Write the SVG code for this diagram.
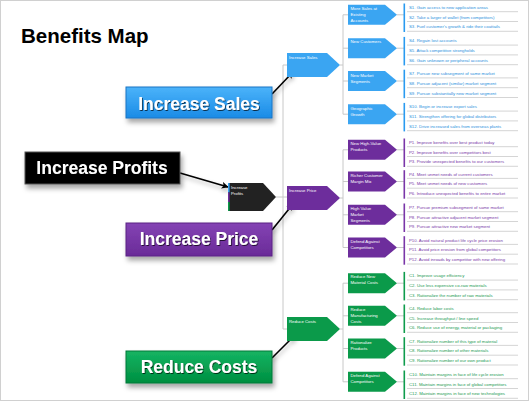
<svg xmlns="http://www.w3.org/2000/svg" width="529" height="401" viewBox="0 0 529 401">
<defs>
<style>
.title{font-family:"Liberation Sans",Arial,sans-serif;font-weight:bold;font-size:20.5px;fill:#000}
.big{font-family:"Liberation Sans",Arial,sans-serif;font-weight:bold;font-size:17.5px;fill:#fff;text-anchor:middle}
.sm{font-family:"Liberation Sans",Arial,sans-serif;font-size:4.3px;fill:#fff}
.it{font-family:"Liberation Sans",Arial,sans-serif;font-size:4.3px}
.tb{fill:#2a8fdc}.tp{fill:#7a3aa8}.tg{fill:#1a9a50}
.nb{fill:#3aa5f2}.np{fill:#6d2d9c}.ng{fill:#0b9a4a}
.bb{fill:#2a9af0}.bp{fill:#7a36a8}.bg{fill:#0f9c4c}
.tree{stroke:#c8c8c8;stroke-width:1;fill:none}
.sep{stroke:#d0d0d0;stroke-width:0.9}
.arr{stroke:#000;stroke-width:1.6;fill:none;marker-end:url(#ah)}
</style>
<marker id="ah" viewBox="0 0 10 10" refX="9" refY="5" markerWidth="7" markerHeight="7" markerUnits="userSpaceOnUse" orient="auto">
<path d="M0,0 L10,5 L0,10 L2.5,5 z" fill="#000"/>
</marker>
<linearGradient id="gB" x1="0" y1="0" x2="0" y2="1"><stop offset="0" stop-color="#4bb3fa"/><stop offset="1" stop-color="#1a8be6"/></linearGradient>
<linearGradient id="gP" x1="0" y1="0" x2="0" y2="1"><stop offset="0" stop-color="#8444b4"/><stop offset="1" stop-color="#6a2a98"/></linearGradient>
<linearGradient id="gG" x1="0" y1="0" x2="0" y2="1"><stop offset="0" stop-color="#14b463"/><stop offset="1" stop-color="#008f40"/></linearGradient>
<filter id="sh" x="-20%" y="-30%" width="150%" height="180%"><feDropShadow dx="2" dy="4" stdDeviation="2.5" flood-color="#000" flood-opacity="0.35"/></filter>
<filter id="ts" x="-10%" y="-30%" width="120%" height="160%"><feDropShadow dx="0.8" dy="1" stdDeviation="0.5" flood-color="#000" flood-opacity="0.7"/></filter>
<filter id="as" x="-50%" y="-50%" width="200%" height="200%"><feDropShadow dx="1" dy="3" stdDeviation="2" flood-color="#000" flood-opacity="0.3"/></filter>
</defs>
<rect x="0.5" y="0.5" width="528" height="400" fill="#fff" stroke="#d0d0d0"/>
<text class="title" x="21" y="42.7">Benefits Map</text>

<g id="connectors">
<path class="tree" d="M283,65 V329 M276,197 H283 M283,65 H287 M283,197 H287 M283,329 H287"/>
<path class="tree" d="M340,65 H343 M343,14.8 V114.2 M343,14.8 H348 M343,48.2 H348 M343,81 H348 M343,114.2 H348"/>
<path class="tree" d="M340,198 H343 M343,149.8 V247.5 M343,149.8 H348 M343,181.5 H348 M343,214.8 H348 M343,247.5 H348"/>
<path class="tree" d="M340,329 H343 M343,283.2 V381.8 M343,283.2 H348 M343,315.8 H348 M343,348.5 H348 M343,381.8 H348"/>
<path class="tree" d="M397,14.8 H404 M397,48.2 H404 M397,81 H404 M397,114.2 H404 M397,149.8 H404 M397,181.5 H404 M397,214.8 H404 M397,247.5 H404 M397,283.2 H404 M397,315.8 H404 M397,348.5 H404 M397,381.8 H404"/>
<g filter="url(#as)">
<line class="arr" x1="272" y1="94" x2="293" y2="72"/>
<line class="arr" x1="180" y1="173" x2="228" y2="187"/>
<line class="arr" x1="272" y1="230" x2="293" y2="204"/>
<line class="arr" x1="272" y1="358" x2="295" y2="335"/>
</g>
</g>

<g id="big-sales" filter="url(#sh)"><rect x="126" y="87" width="146" height="31" fill="url(#gB)" stroke="#1a74c4" stroke-width="1"/><text class="big" x="199" y="109.5" filter="url(#ts)">Increase Sales</text></g>
<g id="big-profits" filter="url(#sh)"><rect x="25" y="152" width="155" height="32" fill="#000" stroke="#555" stroke-width="1"/><text class="big" x="102" y="173.5" filter="url(#ts)">Increase Profits</text></g>
<g id="big-price" filter="url(#sh)"><rect x="126" y="223" width="146" height="33" fill="url(#gP)" stroke="#5a2284" stroke-width="1"/><text class="big" x="199" y="245" filter="url(#ts)">Increase Price</text></g>
<g id="big-costs" filter="url(#sh)"><rect x="126" y="351" width="146" height="32" fill="url(#gG)" stroke="#00783a" stroke-width="1"/><text class="big" x="199" y="372.5" filter="url(#ts)">Reduce Costs</text></g>

<g id="n-profits"><polygon points="228,183 263,183 276,197 263,211 228,211" fill="#222"/><rect x="228" y="183" width="1.6" height="9.5" fill="#3aa5f2"/><rect x="228" y="192.5" width="1.6" height="9.5" fill="#6d2d9c"/><rect x="228" y="202" width="1.6" height="9" fill="#0b9a4a"/><text class="sm" x="231" y="189">Increase</text><text class="sm" x="231" y="194.5">Profits</text></g>

<g id="n-sales"><polygon class="nb" points="287,53 327,53 340,65 327,77 287,77"/><text class="sm" x="289" y="59">Increase Sales</text></g>
<g id="n-price"><polygon class="np" points="287,186 327,186 340,198 327,210 287,210"/><text class="sm" x="289" y="192">Increase Price</text></g>
<g id="n-costs"><polygon class="ng" points="287,317 327,317 340,329 327,341 287,341"/><text class="sm" x="289" y="323">Reduce Costs</text></g>

<g id="s-existing"><polygon class="nb" points="348,4.8 385,4.8 397,14.8 385,24.8 348,24.8"/><text class="sm" x="350.5" y="9.8">More Sales at</text><text class="sm" x="350.5" y="15.8">Existing</text><text class="sm" x="350.5" y="21.8">Accounts</text></g>
<g id="s-newcust"><polygon class="nb" points="348,38.2 385,38.2 397,48.2 385,58.2 348,58.2"/><text class="sm" x="350.5" y="43.2">New Customers</text></g>
<g id="s-newmkt"><polygon class="nb" points="348,71 385,71 397,81 385,91 348,91"/><text class="sm" x="350.5" y="77">New Market</text><text class="sm" x="350.5" y="83">Segments</text></g>
<g id="s-geo"><polygon class="nb" points="348,104.2 385,104.2 397,114.2 385,124.2 348,124.2"/><text class="sm" x="350.5" y="110.2">Geographic</text><text class="sm" x="350.5" y="116.2">Growth</text></g>

<g id="p-highval"><polygon class="np" points="348,139.8 385,139.8 397,149.8 385,159.8 348,159.8"/><text class="sm" x="350.5" y="144.8">New High-Value</text><text class="sm" x="350.5" y="150.8">Products</text></g>
<g id="p-richer"><polygon class="np" points="348,171.5 385,171.5 397,181.5 385,191.5 348,191.5"/><text class="sm" x="350.5" y="176.5">Richer Customer</text><text class="sm" x="350.5" y="182.5">Margin Mix</text></g>
<g id="p-hvmkt"><polygon class="np" points="348,204.8 385,204.8 397,214.8 385,224.8 348,224.8"/><text class="sm" x="350.5" y="209.8">High Value</text><text class="sm" x="350.5" y="215.8">Market</text><text class="sm" x="350.5" y="221.8">Segments</text></g>
<g id="p-defend"><polygon class="np" points="348,237.5 385,237.5 397,247.5 385,257.5 348,257.5"/><text class="sm" x="350.5" y="242.5">Defend Against</text><text class="sm" x="350.5" y="248.5">Competitors</text></g>

<g id="c-material"><polygon class="ng" points="348,273.2 385,273.2 397,283.2 385,293.2 348,293.2"/><text class="sm" x="350.5" y="278.2">Reduce New</text><text class="sm" x="350.5" y="284.2">Material Costs</text></g>
<g id="c-manuf"><polygon class="ng" points="348,305.8 385,305.8 397,315.8 385,325.8 348,325.8"/><text class="sm" x="350.5" y="310.8">Reduce</text><text class="sm" x="350.5" y="316.8">Manufacturing</text><text class="sm" x="350.5" y="322.8">Costs</text></g>
<g id="c-ration"><polygon class="ng" points="348,338.5 385,338.5 397,348.5 385,358.5 348,358.5"/><text class="sm" x="350.5" y="343.5">Rationalize</text><text class="sm" x="350.5" y="349.5">Products</text></g>
<g id="c-defend"><polygon class="ng" points="348,371.8 385,371.8 397,381.8 385,391.8 348,391.8"/><text class="sm" x="350.5" y="376.8">Defend Against</text><text class="sm" x="350.5" y="382.8">Competitors</text></g>

<g id="list-s1">
<rect x="403.5" y="3.5" width="1.6" height="28.5" fill="#2a9af0"/>
<text class="it tb" x="409" y="8.8">S1. Gain access to new application areas</text><line class="sep" x1="407" y1="11.7" x2="518" y2="11.7"/>
<text class="it tb" x="409" y="18.6">S2. Take a larger of wallet (from competitors)</text><line class="sep" x1="407" y1="21.5" x2="518" y2="21.5"/>
<text class="it tb" x="409" y="28.4">S3. Fuel customer's growth &amp; ride their coattails</text><line class="sep" x1="407" y1="31.3" x2="518" y2="31.3"/>
</g>
<g id="list-s2">
<rect x="403.5" y="36.9" width="1.6" height="28.5" fill="#2a9af0"/>
<text class="it tb" x="409" y="42.2">S4. Regain lost accounts</text><line class="sep" x1="407" y1="45.1" x2="518" y2="45.1"/>
<text class="it tb" x="409" y="52">S5. Attack competitive strongholds</text><line class="sep" x1="407" y1="54.9" x2="518" y2="54.9"/>
<text class="it tb" x="409" y="61.8">S6. Gain unknown or peripheral accounts</text><line class="sep" x1="407" y1="64.7" x2="518" y2="64.7"/>
</g>
<g id="list-s3">
<rect x="403.5" y="69.7" width="1.6" height="28.5" fill="#2a9af0"/>
<text class="it tb" x="409" y="75">S7. Pursue new subsegment of same market</text><line class="sep" x1="407" y1="77.9" x2="518" y2="77.9"/>
<text class="it tb" x="409" y="84.8">S8. Pursue adjacent (similar) market segment</text><line class="sep" x1="407" y1="87.7" x2="518" y2="87.7"/>
<text class="it tb" x="409" y="94.6">S9. Pursue substantially new market segment</text><line class="sep" x1="407" y1="97.5" x2="518" y2="97.5"/>
</g>
<g id="list-s4">
<rect x="403.5" y="102.9" width="1.6" height="28.5" fill="#2a9af0"/>
<text class="it tb" x="409" y="108.2">S10. Begin or increase export sales</text><line class="sep" x1="407" y1="111.1" x2="518" y2="111.1"/>
<text class="it tb" x="409" y="118">S11. Strengthen offering for global distributors</text><line class="sep" x1="407" y1="120.9" x2="518" y2="120.9"/>
<text class="it tb" x="409" y="127.8">S12. Drive increased sales from overseas plants</text><line class="sep" x1="407" y1="130.7" x2="518" y2="130.7"/>
</g>

<g id="list-p1">
<rect x="403.5" y="138.5" width="1.6" height="28.5" fill="#7a36a8"/>
<text class="it tp" x="409" y="143.8">P1. Improve benefits over best product today</text><line class="sep" x1="407" y1="146.7" x2="518" y2="146.7"/>
<text class="it tp" x="409" y="153.6">P2. Improve benefits over competitors best</text><line class="sep" x1="407" y1="156.5" x2="518" y2="156.5"/>
<text class="it tp" x="409" y="163.4">P3. Provide unexpected benefits to our customers</text><line class="sep" x1="407" y1="166.3" x2="518" y2="166.3"/>
</g>
<g id="list-p2">
<rect x="403.5" y="170.2" width="1.6" height="28.5" fill="#7a36a8"/>
<text class="it tp" x="409" y="175.5">P4. Meet unmet needs of current customers</text><line class="sep" x1="407" y1="178.4" x2="518" y2="178.4"/>
<text class="it tp" x="409" y="185.3">P5. Meet unmet needs of new customers</text><line class="sep" x1="407" y1="188.2" x2="518" y2="188.2"/>
<text class="it tp" x="409" y="195.1">P6. Introduce unexpected benefits to entire market</text><line class="sep" x1="407" y1="198" x2="518" y2="198"/>
</g>
<g id="list-p3">
<rect x="403.5" y="203.5" width="1.6" height="28.5" fill="#7a36a8"/>
<text class="it tp" x="409" y="208.8">P7. Pursue premium subsegment of same market</text><line class="sep" x1="407" y1="211.7" x2="518" y2="211.7"/>
<text class="it tp" x="409" y="218.6">P8. Pursue attractive adjacent market segment</text><line class="sep" x1="407" y1="221.5" x2="518" y2="221.5"/>
<text class="it tp" x="409" y="228.4">P9. Pursue attractive new market segment</text><line class="sep" x1="407" y1="231.3" x2="518" y2="231.3"/>
</g>
<g id="list-p4">
<rect x="403.5" y="236.2" width="1.6" height="28.5" fill="#7a36a8"/>
<text class="it tp" x="409" y="241.5">P10. Avoid natural product life cycle price erosion</text><line class="sep" x1="407" y1="244.4" x2="518" y2="244.4"/>
<text class="it tp" x="409" y="251.3">P11. Avoid price erosion from global competitors</text><line class="sep" x1="407" y1="254.2" x2="518" y2="254.2"/>
<text class="it tp" x="409" y="261.1">P12. Avoid inroads by competitor with new offering</text><line class="sep" x1="407" y1="264" x2="518" y2="264"/>
</g>

<g id="list-c1">
<rect x="403.5" y="271.9" width="1.6" height="28.5" fill="#0f9c4c"/>
<text class="it tg" x="409" y="277.2">C1. Improve usage efficiency</text><line class="sep" x1="407" y1="280.1" x2="518" y2="280.1"/>
<text class="it tg" x="409" y="287">C2. Use less expensive co-raw materials</text><line class="sep" x1="407" y1="289.9" x2="518" y2="289.9"/>
<text class="it tg" x="409" y="296.8">C3. Rationalize the number of raw materials</text><line class="sep" x1="407" y1="299.7" x2="518" y2="299.7"/>
</g>
<g id="list-c2">
<rect x="403.5" y="304.5" width="1.6" height="28.5" fill="#0f9c4c"/>
<text class="it tg" x="409" y="309.8">C4. Reduce labor costs</text><line class="sep" x1="407" y1="312.7" x2="518" y2="312.7"/>
<text class="it tg" x="409" y="319.6">C5. Increase throughput / line speed</text><line class="sep" x1="407" y1="322.5" x2="518" y2="322.5"/>
<text class="it tg" x="409" y="329.4">C6. Reduce use of energy, material or packaging</text><line class="sep" x1="407" y1="332.3" x2="518" y2="332.3"/>
</g>
<g id="list-c3">
<rect x="403.5" y="337.2" width="1.6" height="28.5" fill="#0f9c4c"/>
<text class="it tg" x="409" y="342.5">C7. Rationalize number of this type of material</text><line class="sep" x1="407" y1="345.4" x2="518" y2="345.4"/>
<text class="it tg" x="409" y="352.3">C8. Rationalize number of other materials</text><line class="sep" x1="407" y1="355.2" x2="518" y2="355.2"/>
<text class="it tg" x="409" y="362.1">C9. Rationalize number of our own product</text><line class="sep" x1="407" y1="365" x2="518" y2="365"/>
</g>
<g id="list-c4">
<rect x="403.5" y="370.5" width="1.6" height="28.5" fill="#0f9c4c"/>
<text class="it tg" x="409" y="375.8">C10. Maintain margins in face of life cycle erosion</text><line class="sep" x1="407" y1="378.7" x2="518" y2="378.7"/>
<text class="it tg" x="409" y="385.6">C11. Maintain margins in face of global competitors</text><line class="sep" x1="407" y1="388.5" x2="518" y2="388.5"/>
<text class="it tg" x="409" y="395.4">C12. Maintain margins in face of new technologies</text><line class="sep" x1="407" y1="398.3" x2="518" y2="398.3"/>
</g>
</svg>
